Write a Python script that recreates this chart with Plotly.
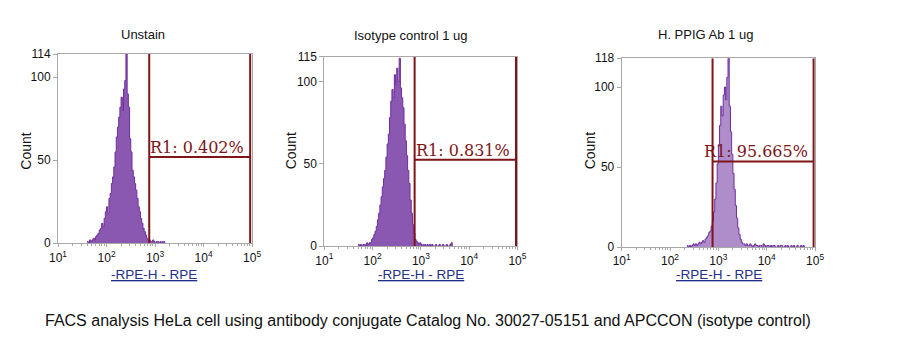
import numpy as np
import plotly.graph_objects as go

W, H = 911, 353

titles = ["Unstain", "Isotype control 1 ug", "H. PPIG Ab 1 ug"]
r1_labels = ["R1: 0.402%", "R1: 0.831%", "R1: 95.665%"]
ymax = [114, 115, 118]
gate_low = [10**2.88, 10**2.87, 10**2.88]
gate_high = [10**4.96, 10**4.97, 10**4.97]
gate_level = [52, 52.5, 53.5]
caption = "FACS analysis HeLa cell using antibody conjugate Catalog No. 30027-05151 and APCCON (isotype control)"
xtick_vals = [1e1, 1e2, 1e3, 1e4, 1e5]
xtick_text = ["10<sup>1</sup>", "10<sup>2</sup>", "10<sup>3</sup>", "10<sup>4</sup>", "10<sup>5</sup>"]

# histogram bins: log10 channel start, step 0.025 decade
bin_step = 0.025
start1 = 1.60
counts1 = [1, 0, 2, 1, 2, 3, 2, 4, 5, 6, 8, 9, 12, 10, 15, 19, 22, 18, 27, 30,
           36, 40, 46, 55, 64, 70, 76, 82, 88, 80, 93, 98, 114, 90, 82, 63, 55, 44, 40, 36,
           32, 27, 22, 19, 15, 12, 9, 7, 5, 3, 2, 2, 1, 1, 2, 1, 0, 1, 1, 0,
           1, 0, 1, 1, 0]
start2 = 1.70
counts2 = [1, 0, 1, 0, 1, 1, 0, 2, 1, 2, 2, 4, 5, 7, 9, 12, 16, 20, 25, 30,
           36, 41, 46, 54, 62, 68, 78, 88, 95, 90, 104, 98, 108, 100, 114, 96, 90, 84, 74, 64,
           55, 46, 38, 28, 20, 13, 8, 4, 3, 2, 1, 2, 1, 0, 1, 1, 0, 1, 0, 1,
           0, 1, 0, 0, 1, 0, 0, 1, 0, 0, 1, 0, 0, 1, 0, 0, 1, 2, 0]
start3 = 2.35
counts3 = [1, 0, 1, 0, 1, 2, 1, 2, 1, 2, 3, 2, 3, 4, 3, 5, 6, 7, 9, 10,
           13, 16, 22, 30, 40, 52, 64, 76, 88, 82, 95, 100, 92, 106, 118, 88, 72, 58, 46, 36,
           26, 18, 12, 8, 5, 3, 2, 2, 1, 2, 1, 1, 2, 1, 0, 1, 2, 1, 1, 0,
           1, 1, 0, 2, 1, 0, 1, 1, 0, 1, 0, 1, 1, 0, 0, 1, 0, 1, 1, 0,
           0, 1, 0, 1, 0, 0, 1, 0, 1, 0, 0, 1, 0, 0, 1, 0, 1, 0, 0]

series = [(start1, counts1), (start2, counts2), (start3, counts3)]

# plot areas in pixels: left, right, top, bottom
boxes = [(50, 248, 49, 246), (321.7, 518.7, 51.7, 249), (625, 822.3, 53.3, 250)]
fill_alpha = [0.8, 0.8, 0.55]

PURPLE = "#6E2E9E"
GATE = "#7E1518"
GRID = "#A8A8A8"

fig = go.Figure()
for i, ((s, c), (l, r, t, b)) in enumerate(zip(series, boxes)):
    xa = "x" if i == 0 else f"x{i+1}"
    ya = "y" if i == 0 else f"y{i+1}"
    logs = s + bin_step * np.arange(len(c))
    fig.add_trace(go.Scatter(
        x=10**logs, y=c, mode="lines", line=dict(color=PURPLE, width=1, shape="hv"),
        fill="tozeroy", fillcolor=f"rgba(110,46,158,{fill_alpha[i]})",
        xaxis=xa, yaxis=ya, showlegend=False, hoverinfo="skip"))
    # gate
    fig.add_trace(go.Scatter(
        x=[gate_low[i], gate_low[i], None, gate_high[i], gate_high[i], None, gate_low[i], gate_high[i]],
        y=[0, ymax[i], None, 0, ymax[i], None, gate_level[i], gate_level[i]],
        mode="lines", line=dict(color=GATE, width=2), xaxis=xa, yaxis=ya,
        showlegend=False, hoverinfo="skip"))

    axis_common = dict(showline=True, linecolor=GRID, linewidth=1, mirror=True,
                       showgrid=False, zeroline=False, ticks="outside", tickcolor=GRID,
                       tickfont=dict(family="Liberation Sans", size=12, color="#111"))
    xd = dict(axis_common, type="log", range=[1, 5], domain=[l / W, r / W],
              anchor=ya, tickmode="array", tickvals=xtick_vals, ticktext=xtick_text, ticklen=3,
              minor=dict(ticks="outside", ticklen=2, tickcolor=GRID, dtick="D1"))
    yd = dict(axis_common, range=[0, ymax[i]], domain=[1 - b / H, 1 - t / H],
              anchor=xa, tickmode="array", tickvals=[0, 50, 100, ymax[i]], ticklen=4)
    fig.layout[f"xaxis{'' if i == 0 else i+1}"] = xd
    fig.layout[f"yaxis{'' if i == 0 else i+1}"] = yd
    fig.add_annotation(x=np.log10(gate_high[i]), y=gate_level[i], xref=xa, yref=ya,
                       text=r1_labels[i], showarrow=False, xanchor="right", yanchor="bottom",
                       xshift=-4, yshift=-2,
                       font=dict(family="DejaVu Serif", size=16, color=GATE))

title_x = [137, 410, 711]
title_y = [29, 30, 29]
count_x = [17, 288, 593]
xtitle_x = [148, 420, 724]
for i in range(3):
    fig.add_annotation(x=title_x[i] / W, y=1 - title_y[i] / H, xref="paper", yref="paper",
                       text=titles[i], showarrow=False, xanchor="center", yanchor="middle",
                       font=dict(family="Liberation Sans", size=13, color="#111"))
    fig.add_annotation(x=count_x[i] / W, y=1 - 150 / H, xref="paper", yref="paper",
                       text="Count", textangle=-90, showarrow=False, xanchor="center",
                       yanchor="middle", font=dict(family="Liberation Sans", size=14, color="#111"))
    fig.add_annotation(x=xtitle_x[i] / W, y=1 - 279 / H, xref="paper", yref="paper",
                       text="<u>-RPE-H - RPE</u>", showarrow=False, xanchor="center",
                       yanchor="middle", font=dict(family="Liberation Sans", size=13.5, color="#23308A"))

fig.add_annotation(x=35 / W, y=1 - 326 / H, xref="paper", yref="paper", text=caption,
                   showarrow=False, xanchor="left", yanchor="middle",
                   font=dict(family="Liberation Sans", size=16, color="#111"))

fig.update_layout(width=W, height=H, margin=dict(l=0, r=0, t=0, b=0),
                  paper_bgcolor="white", plot_bgcolor="white")
fig.write_html("out.html")
